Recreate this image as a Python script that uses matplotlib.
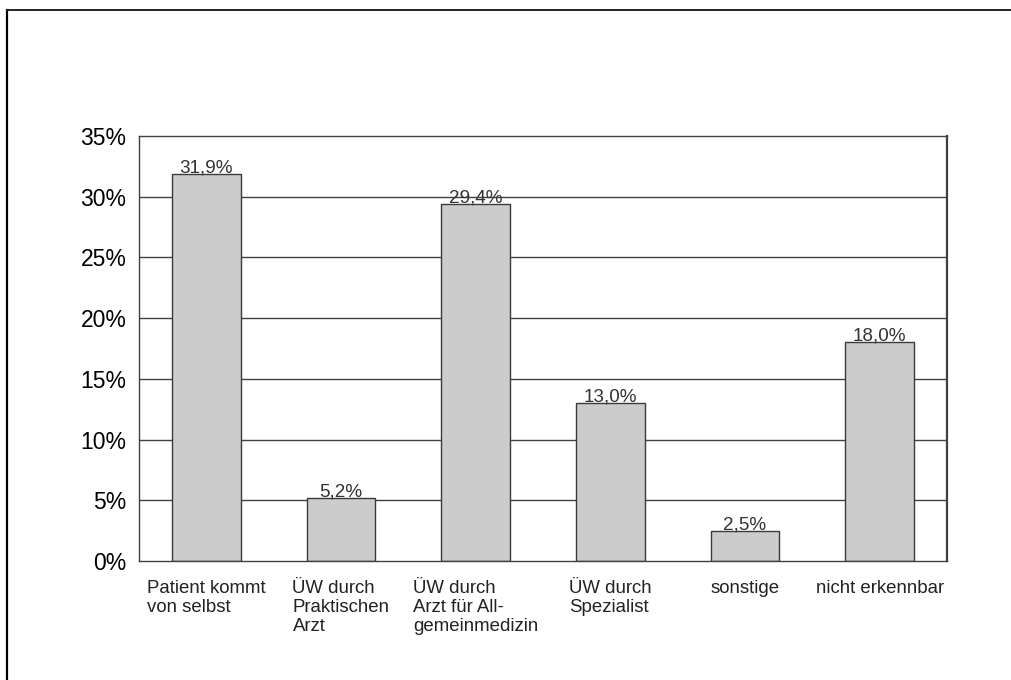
import matplotlib
matplotlib.use("Agg")
import matplotlib.pyplot as plt
from matplotlib.lines import Line2D
from matplotlib.ticker import FuncFormatter

categories = ["Patient kommt\nvon selbst",
              "ÜW durch\nPraktischen\nArzt",
              "ÜW durch\nArzt für All-\ngemeinmedizin",
              "ÜW durch\nSpezialist",
              "sonstige",
              "nicht erkennbar"]
values = [31.9, 5.2, 29.4, 13.0, 2.5, 18.0]
value_labels = ["31,9%", "5,2%", "29,4%", "13,0%", "2,5%", "18,0%"]
yticks = [0, 5, 10, 15, 20, 25, 30, 35]

plt.rcParams['font.family'] = ['Liberation Sans', 'DejaVu Sans']

W, H = 1011, 680
fig = plt.figure(figsize=(W / 100, H / 100), dpi=100)
ax = fig.add_axes([139 / W, 1 - 561 / H, (947 - 139) / W, (561 - 136) / H])

x = list(range(len(values)))
ax.set_axisbelow(True)
for yv in yticks[1:-1]:
    ax.axhline(yv, color='#404040', lw=1.0, zorder=0)
ax.bar(x, values, width=0.51, color='#cccccc', edgecolor='#3a3a3a', linewidth=1.0, zorder=2)

for xi, v, lab in zip(x, values, value_labels):
    ax.text(xi, v + 0.12, lab, ha='center', va='baseline', fontsize=13.6, color='#333333')

ax.set_xlim(-0.5, len(values) - 0.5)
ax.set_ylim(0, 35)
ax.set_yticks(yticks)
ax.yaxis.set_major_formatter(FuncFormatter(lambda v, p: f"{int(v)}%"))
ax.tick_params(axis='y', length=0, pad=9, labelsize=16.5, labelcolor='black')
ax.set_xticks(x)
ax.set_xticklabels(categories, fontsize=13.4, color='#222222', linespacing=1.12)
for t in ax.get_xticklabels():
    t.set_multialignment('left')
ax.tick_params(axis='x', length=0, pad=14)

for side in ['left', 'bottom', 'top']:
    ax.spines[side].set_color('#404040')
    ax.spines[side].set_linewidth(1.0)
ax.spines['right'].set_color('#404040')
ax.spines['right'].set_linewidth(1.6)

# outer frame
fig.add_artist(Line2D([6.5 / W, 6.5 / W], [0, 1 - 9.5 / H], transform=fig.transFigure,
                      color='black', lw=1.6))
fig.add_artist(Line2D([6.5 / W, 1], [1 - 9.5 / H, 1 - 9.5 / H], transform=fig.transFigure,
                      color='#222222', lw=1.4))

fig.savefig("out.png", dpi=100)
